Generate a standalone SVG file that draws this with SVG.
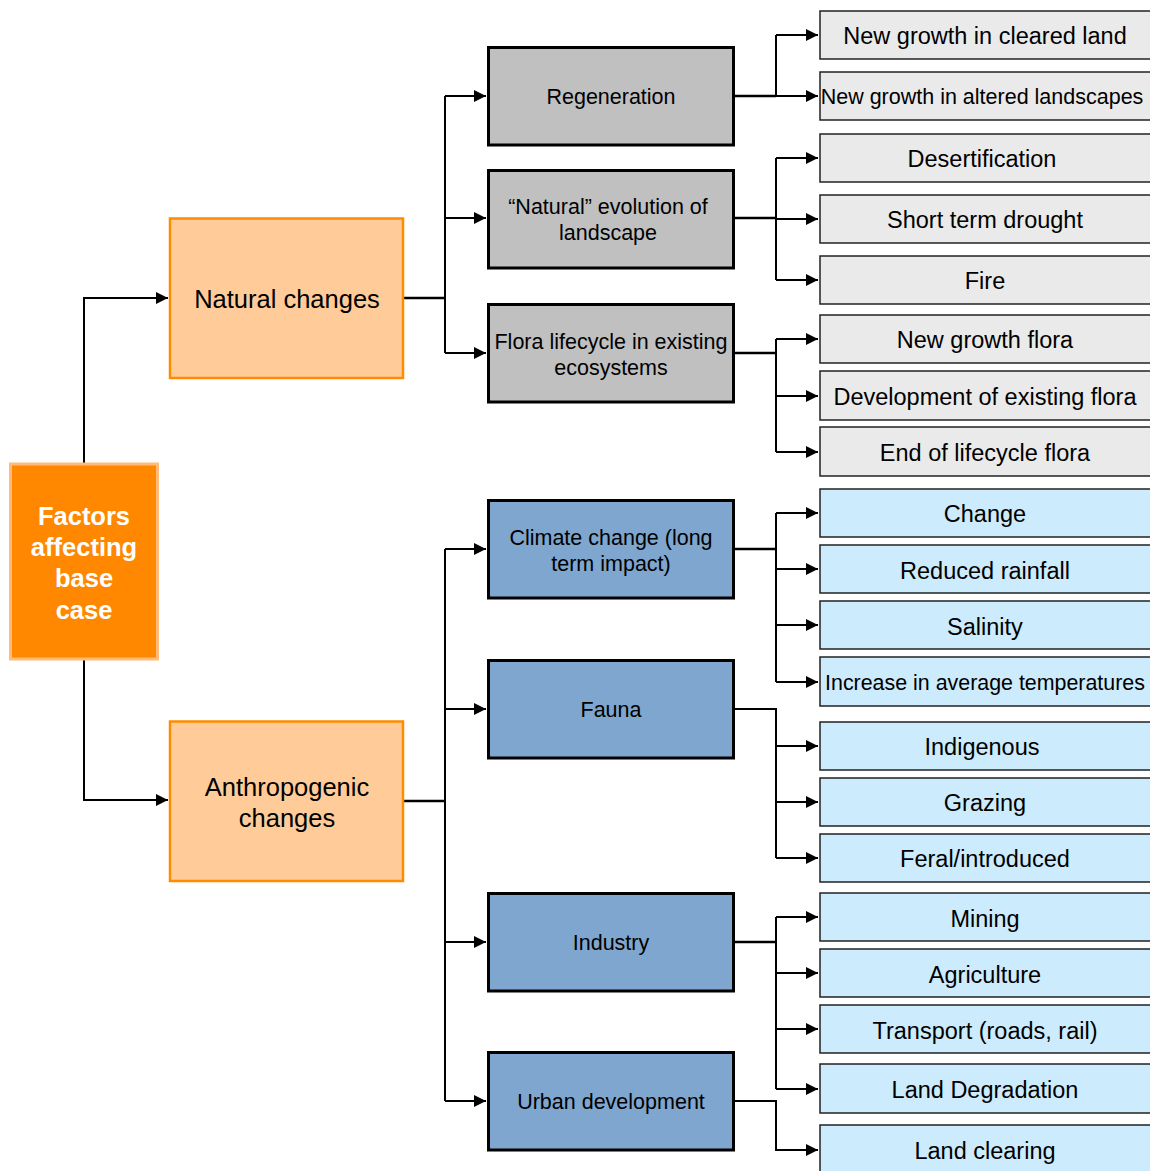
<svg xmlns="http://www.w3.org/2000/svg" width="1150" height="1171" viewBox="0 0 1150 1171">
<style>
text{font-family:"Liberation Sans",Arial,sans-serif;fill:#000;text-anchor:middle}
.root rect{fill:#FF8800;stroke:#FFBB77;stroke-width:3}
.root text{fill:#fff;font-weight:bold;font-size:25.5px}
.l1 rect{fill:#FFCC99;stroke:#FF8C00;stroke-width:2.5}
.l1 text{font-size:25.5px}
.mid rect{stroke:#000;stroke-width:3}
.mg rect{fill:#C0C0C0}
.mb rect{fill:#7FA6CF}
.mid text{font-size:21.5px}
.leaf rect{stroke:#222;stroke-width:1.5}
.lg rect{fill:#EAEAEA}
.lb rect{fill:#CCEBFC}
.leaf text{font-size:23.5px}
.c{fill:none;stroke:#000;stroke-width:2}
.t{fill:none;stroke:#000;stroke-width:2.5}
</style>
<defs>
<marker id="a" markerUnits="userSpaceOnUse" markerWidth="12" markerHeight="12" refX="12" refY="6" orient="auto">
<path d="M0,0 L12,6 L0,12 z" fill="#000"/>
</marker>
</defs>
<rect width="1150" height="1171" fill="#fff"/>
<g id="connectors">
<path class="c" d="M84,463 V298 H168" marker-end="url(#a)"/>
<path class="c" d="M84,660 V800 H168" marker-end="url(#a)"/>
<path class="t" d="M404,298 H445"/>
<path class="c" d="M445,96 V353"/>
<path class="c" d="M445,96 H486" marker-end="url(#a)"/>
<path class="c" d="M445,218 H486" marker-end="url(#a)"/>
<path class="c" d="M445,353 H486" marker-end="url(#a)"/>
<path class="t" d="M404,801 H445"/>
<path class="c" d="M445,549 V1101"/>
<path class="c" d="M445,549 H486" marker-end="url(#a)"/>
<path class="c" d="M445,709 H486" marker-end="url(#a)"/>
<path class="c" d="M445,942 H486" marker-end="url(#a)"/>
<path class="c" d="M445,1101 H486" marker-end="url(#a)"/>
<path class="t" d="M735,96 H776"/>
<path class="c" d="M776,35 V96"/>
<path class="c" d="M776,35 H818" marker-end="url(#a)"/>
<path class="c" d="M776,96 H818" marker-end="url(#a)"/>
<path class="t" d="M735,218 H776"/>
<path class="c" d="M776,158 V280"/>
<path class="c" d="M776,158 H818" marker-end="url(#a)"/>
<path class="c" d="M776,219 H818" marker-end="url(#a)"/>
<path class="c" d="M776,280 H818" marker-end="url(#a)"/>
<path class="t" d="M735,353 H776"/>
<path class="c" d="M776,339 V452"/>
<path class="c" d="M776,339 H818" marker-end="url(#a)"/>
<path class="c" d="M776,396 H818" marker-end="url(#a)"/>
<path class="c" d="M776,452 H818" marker-end="url(#a)"/>
<path class="t" d="M735,549 H776"/>
<path class="c" d="M776,513 V682"/>
<path class="c" d="M776,513 H818" marker-end="url(#a)"/>
<path class="c" d="M776,569 H818" marker-end="url(#a)"/>
<path class="c" d="M776,625 H818" marker-end="url(#a)"/>
<path class="c" d="M776,682 H818" marker-end="url(#a)"/>
<path class="c" d="M735,709 H776 V858"/>
<path class="c" d="M776,746 H818" marker-end="url(#a)"/>
<path class="c" d="M776,802 H818" marker-end="url(#a)"/>
<path class="c" d="M776,858 H818" marker-end="url(#a)"/>
<path class="t" d="M735,942 H776"/>
<path class="c" d="M776,917 V1089"/>
<path class="c" d="M776,917 H818" marker-end="url(#a)"/>
<path class="c" d="M776,973 H818" marker-end="url(#a)"/>
<path class="c" d="M776,1029 H818" marker-end="url(#a)"/>
<path class="c" d="M776,1089 H818" marker-end="url(#a)"/>
<path class="c" d="M735,1101 H776 V1150 H818" marker-end="url(#a)"/>
</g>
<g id="root" class="root"><rect x="10.5" y="464" width="147" height="195"/>
<text x="84" y="525">Factors</text><text x="84" y="556">affecting</text><text x="84" y="587">base</text><text x="84" y="619">case</text></g>
<g id="natural" class="l1"><rect x="170" y="218.5" width="233" height="159.5"/><text x="287" y="308">Natural changes</text></g>
<g id="anthro" class="l1"><rect x="170" y="721.5" width="233" height="159.5"/><text x="287" y="796">Anthropogenic</text><text x="287" y="827">changes</text></g>
<g id="regeneration" class="mid mg"><rect x="488.5" y="47.5" width="245" height="97.5"/><text x="611" y="104">Regeneration</text></g>
<g id="evolution" class="mid mg"><rect x="488.5" y="170.5" width="245" height="97.5"/><text x="608" y="214">“Natural” evolution of</text><text x="608" y="240">landscape</text></g>
<g id="flora" class="mid mg"><rect x="488.5" y="304.5" width="245" height="97.5"/><text x="611" y="349">Flora lifecycle in existing</text><text x="611" y="375">ecosystems</text></g>
<g id="climate" class="mid mb"><rect x="488.5" y="500.5" width="245" height="97.5"/><text x="611" y="545">Climate change (long</text><text x="611" y="571">term impact)</text></g>
<g id="fauna" class="mid mb"><rect x="488.5" y="660.5" width="245" height="97.5"/><text x="611" y="717">Fauna</text></g>
<g id="industry" class="mid mb"><rect x="488.5" y="893.5" width="245" height="97.5"/><text x="611" y="950">Industry</text></g>
<g id="urban" class="mid mb"><rect x="488.5" y="1052.5" width="245" height="97.5"/><text x="611" y="1109">Urban development</text></g>
<g id="leaf1" class="leaf lg"><rect x="820" y="11" width="340" height="48"/><text x="985" y="44">New growth in cleared land</text></g>
<g id="leaf2" class="leaf lg"><rect x="820" y="72" width="340" height="48"/><text x="982" y="104" style="font-size:21.5px">New growth in altered landscapes</text></g>
<g id="leaf3" class="leaf lg"><rect x="820" y="134" width="340" height="48"/><text x="982" y="167">Desertification</text></g>
<g id="leaf4" class="leaf lg"><rect x="820" y="195" width="340" height="48"/><text x="985" y="228">Short term drought</text></g>
<g id="leaf5" class="leaf lg"><rect x="820" y="256" width="340" height="48"/><text x="985" y="289">Fire</text></g>
<g id="leaf6" class="leaf lg"><rect x="820" y="315" width="340" height="48"/><text x="985" y="348">New growth flora</text></g>
<g id="leaf7" class="leaf lg"><rect x="820" y="371" width="340" height="49"/><text x="985" y="405">Development of existing flora</text></g>
<g id="leaf8" class="leaf lg"><rect x="820" y="427" width="340" height="49"/><text x="985" y="461">End of lifecycle flora</text></g>
<g id="leaf9" class="leaf lb"><rect x="820" y="489" width="340" height="48"/><text x="985" y="522">Change</text></g>
<g id="leaf10" class="leaf lb"><rect x="820" y="545" width="340" height="48"/><text x="985" y="579">Reduced rainfall</text></g>
<g id="leaf11" class="leaf lb"><rect x="820" y="601" width="340" height="48"/><text x="985" y="635">Salinity</text></g>
<g id="leaf12" class="leaf lb"><rect x="820" y="657" width="340" height="49"/><text x="985" y="690" style="font-size:21.4px">Increase in average temperatures</text></g>
<g id="leaf13" class="leaf lb"><rect x="820" y="722" width="340" height="48"/><text x="982" y="755">Indigenous</text></g>
<g id="leaf14" class="leaf lb"><rect x="820" y="778" width="340" height="48"/><text x="985" y="811">Grazing</text></g>
<g id="leaf15" class="leaf lb"><rect x="820" y="834" width="340" height="48"/><text x="985" y="867">Feral/introduced</text></g>
<g id="leaf16" class="leaf lb"><rect x="820" y="893" width="340" height="48"/><text x="985" y="927">Mining</text></g>
<g id="leaf17" class="leaf lb"><rect x="820" y="949" width="340" height="48"/><text x="985" y="983">Agriculture</text></g>
<g id="leaf18" class="leaf lb"><rect x="820" y="1005" width="340" height="48"/><text x="985" y="1039">Transport (roads, rail)</text></g>
<g id="leaf19" class="leaf lb"><rect x="820" y="1064" width="340" height="49"/><text x="985" y="1098">Land Degradation</text></g>
<g id="leaf20" class="leaf lb"><rect x="820" y="1125" width="340" height="60"/><text x="985" y="1159">Land clearing</text></g>
</svg>
